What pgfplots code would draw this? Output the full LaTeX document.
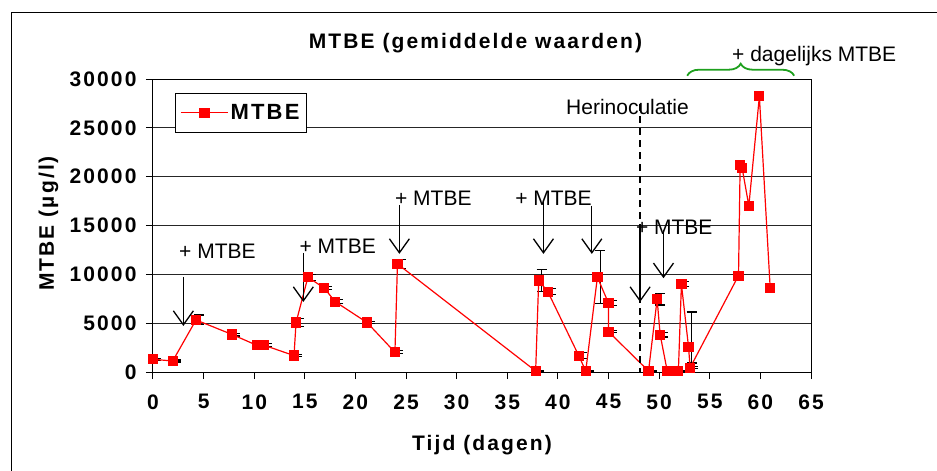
\documentclass[border=0pt]{standalone}
\usepackage{fontspec}
\setmainfont{Liberation Sans}[BoldFeatures={LetterSpace=10}]
\usepackage{pgfplots}
\pgfplotsset{compat=1.18}
\usetikzlibrary{arrows.meta,decorations.pathreplacing}
\definecolor{bracegreen}{RGB}{30,160,30}
\newcommand\fs{\fontsize{21}{25}\selectfont}
\begin{document}
\begin{tikzpicture}
\useasboundingbox (-153pt,-99pt) rectangle (784pt,372pt);
\begin{axis}[
    at={(0pt,0pt)}, anchor=south west,
    scale only axis, width=658pt, height=293pt,
    xmin=0, xmax=65, ymin=0, ymax=30000,
    xtick={0,5,...,65}, ytick={0,5000,...,30000},
    scaled y ticks=false,
    ymajorgrids, grid style={black!85, line width=0.8pt},
    axis line style={black, line width=1pt},
    tick align=outside, tick pos=left, major tick length=7pt,
    tick style={black, line width=1pt},
    ticklabel style={font=\fs\bfseries},
    xticklabel style={yshift=-12pt},
    yticklabel style={xshift=-6pt},
    /pgf/number format/assume math mode=true,
    /pgf/number format/1000 sep={},
    clip=false,
    legend style={at={(0,1)}, anchor=north west, xshift=22pt, yshift=-14pt,
        draw=black, line width=0.8pt, font=\fontsize{22}{26}\selectfont\bfseries,
        inner xsep=5pt, inner ysep=9pt},
    legend image code/.code={\draw[mark repeat=2,mark phase=2,#1] plot coordinates {(0pt,0pt) (23.5pt,0pt) (47pt,0pt)};},
]
% error bars, slightly offset to the right as in the original
\addplot[forget plot, draw=none, mark=none,
    error bars/.cd, y dir=both, y explicit,
    error bar style={draw=black, line width=1.2pt},
    error mark options={draw=black, rotate=90, mark size=5pt, line width=1.2pt}]
coordinates {
    (0.3,1300) +- (0,120)
    (2.25,1130) +- (0,100)
    (4.55,5330) +- (0,500)
    (8.14,3830) +- (0,150)
    (10.54,2740) +- (0,100)
    (11.27,2740) +- (0,150)
    (14.23,1680) +- (0,120)
    (14.43,5060) +- (0,400)
    (15.6,9700) +- (0,300)
    (17.2,8610) +- (0,150)
    (18.3,7200) +- (0,200)
    (21.45,5060) +- (0,100)
    (24.2,2020) +- (0,150)
    (24.45,11070) +- (0,450)
    (38.1,100) +- (0,60)
    (38.4,9360) +- (0,1150)
    (39.3,8230) +- (0,300)
    (42.36,1670) +- (0,290)
    (43.05,100) +- (0,60)
    (44.2,9710) +- (0,2720)
    (45.3,7040) +- (0,250)
    (45.3,4130) +- (0,100)
    (49.25,100) +- (0,60)
    (50.1,7450) +- (0,600)
    (50.4,3820) +- (0,240)
    (51.1,100) +- (0,60)
    (51.65,100) +- (0,60)
    (52.2,100) +- (0,60)
    (52.5,8990) +- (0,250)
    (53.2,2590) += (0,3560) -= (0,1670)
    (53.36,440) +- (0,100)
};
\addplot[red, line width=1.2pt, mark=square*, mark size=4.5pt, mark options={solid, fill=red}]
coordinates {
    (0,1300) (1.95,1130) (4.25,5330) (7.84,3830) (10.24,2740) (10.97,2740)
    (13.93,1680) (14.13,5060) (15.3,9700) (16.9,8610) (18.0,7200) (21.15,5060)
    (23.9,2020) (24.15,11070) (37.8,100) (38.1,9360) (39.0,8230) (42.06,1670)
    (42.75,100) (43.9,9710) (45.0,7040) (45.0,4130) (48.95,100) (49.8,7450)
    (50.1,3820) (50.8,100) (51.35,100) (51.9,100) (52.2,8990) (52.9,2590)
    (53.06,440) (57.84,9870) (58.0,21220) (58.2,20880) (58.86,17010)
    (59.9,28220) (60.97,8580)
};
\addlegendentry{MTBE}

% titles
\node[anchor=base, font=\fs\bfseries] at ([yshift=31pt]rel axis cs:0.49,1) {MTBE (gemiddelde waarden)};
\node[anchor=base, font=\fs\bfseries] at ([yshift=-78pt]rel axis cs:0.5,0) {Tijd (dagen)};
\node[anchor=base, rotate=90, font=\fs\bfseries] at ([xshift=-99pt]rel axis cs:0,0.507) {MTBE (µg/l)};

% annotations
\tikzset{addarrow/.style={black, line width=1.3pt, -{Straight Barb[length=14pt,width=20pt]}}}
\node[anchor=base west, font=\fs, inner sep=0pt] at (axis cs:2.57,11580) {+ MTBE};
\draw[addarrow] (axis cs:3.0,9740) -- (axis cs:3.0,4715);
\node[anchor=base west, font=\fs, inner sep=0pt] at (axis cs:14.46,12166) {+ MTBE};
\draw[addarrow] (axis cs:14.85,12200) -- (axis cs:14.85,7175);
\node[anchor=base west, font=\fs, inner sep=0pt] at (axis cs:23.9,17013) {+ MTBE};
\draw[addarrow] (axis cs:24.34,17116) -- (axis cs:24.34,12094);
\node[anchor=base west, font=\fs, inner sep=0pt] at (axis cs:35.77,17013) {+ MTBE};
\draw[addarrow] (axis cs:38.57,17628) -- (axis cs:38.57,12094);
\draw[addarrow] (axis cs:43.35,17013) -- (axis cs:43.35,12094);
\node[anchor=base west, font=\fs, inner sep=0pt] at (axis cs:40.8,26340) {Herinoculatie};
\draw[black, line width=1.5pt, dash pattern=on 7pt off 5pt] (axis cs:48.12,27400) -- (axis cs:48.12,0);
\node[anchor=base west, font=\fs, inner sep=0pt] at (axis cs:47.7,14041) {+ MTBE};
\draw[addarrow] (axis cs:48.12,14554) -- (axis cs:48.12,7175);
\draw[addarrow] (axis cs:50.43,14554) -- (axis cs:50.43,9603);
\draw[decorate, decoration={brace, amplitude=12pt}, bracegreen, line width=1.8pt]
    (axis cs:52.77,30337) -- (axis cs:63.34,30337);
\node[anchor=base west, font=\fs, inner sep=0pt] at (axis cs:57.2,31800) {+ dagelijks MTBE};
\end{axis}
\draw[black, line width=1pt] (-141pt,-99pt) -- (-141pt,359pt) -- (784pt,359pt);
\end{tikzpicture}
\end{document}
